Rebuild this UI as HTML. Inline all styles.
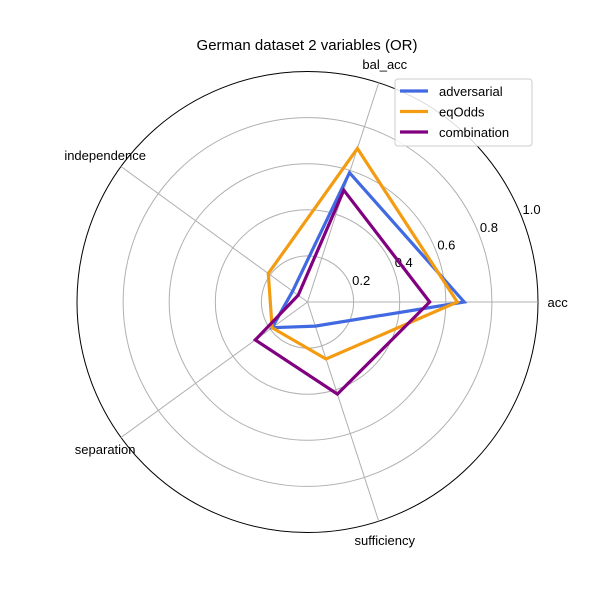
<!DOCTYPE html>
<html><head><meta charset="utf-8"><style>body{margin:0;background:#fff}svg text{font-family:"Liberation Sans","DejaVu Sans",sans-serif}</style></head>
<body>
<svg id="chart" width="600" height="600" viewBox="0 0 600 600" xmlns="http://www.w3.org/2000/svg">
<rect width="600" height="600" fill="#fff"/>
<text x="307" y="50" font-size="15" text-anchor="middle">German dataset 2 variables (OR)</text>
<g id="grid"></g>
<g id="series"></g>
<g id="legend">
<rect x="395" y="79" width="137" height="67" rx="3" fill="#fff" fill-opacity="0.85" stroke="#ccc"/>
</g>
</svg>
<script>
const categories = ["acc","bal_acc","independence","separation","sufficiency"];
const seriesNames = ["adversarial","eqOdds","combination"];
const adversarial = [0.68, 0.59, 0.08, 0.19, 0.11];
const eqOdds = [0.65, 0.70, 0.21, 0.19, 0.26];
const combination = [0.53, 0.51, 0.05, 0.28, 0.42];
const radialTicks = [0.2, 0.4, 0.6, 0.8, 1.0];
const tickLabels = ["0.2","0.4","0.6","0.8","1.0"];

const NS="http://www.w3.org/2000/svg";
const cx=307.5, cy=302, R=230.5;
const colors=["#4169e1","#f39c12","#800080"];
const allSeries=[adversarial,eqOdds,combination];
function ang(i){return i*2*Math.PI/categories.length;}
function px(v,i){return cx+v*R*Math.cos(ang(i));}
function py(v,i){return cy-v*R*Math.sin(ang(i));}
function mk(tag,attrs,parent){const e=document.createElementNS(NS,tag);for(const k in attrs)e.setAttribute(k,attrs[k]);parent.appendChild(e);return e;}
const grid=document.getElementById('grid');
radialTicks.forEach((t,k)=>{
  const c=mk('circle',{cx:cx,cy:cy,r:t*R,fill:'none',stroke:t===1?'#000':'#b0b0b0','stroke-width':1},grid);
  
  
  const a=22.5*Math.PI/180, rr=t*R+12;
  const tx=mk('text',{x:cx+rr*Math.cos(a),y:cy-rr*Math.sin(a)+5,'font-size':13,'text-anchor':'middle'},grid);
  tx.textContent=tickLabels[k];
  
  
});
categories.forEach((c,i)=>{
  const l=mk('line',{x1:cx,y1:cy,x2:px(1,i),y2:py(1,i),stroke:'#b0b0b0','stroke-width':1},grid);
  
  
  const rr=1.085;
  const t=mk('text',{x:cx+rr*R*Math.cos(ang(i)),y:cy-rr*R*Math.sin(ang(i))+5,'font-size':13,'text-anchor':'middle'},grid);
  t.textContent=c;
  
  
});
const sg=document.getElementById('series');
allSeries.forEach((vals,s)=>{
  const pts=vals.map((v,i)=>px(v,i).toFixed(1)+','+py(v,i).toFixed(1)).join(' ');
  const p=mk('polygon',{points:pts,fill:'none',stroke:colors[s],'stroke-width':3.2,'stroke-linejoin':'miter'},sg);
  
  
});
const lg=document.getElementById('legend');
seriesNames.forEach((n,s)=>{
  const y=91+s*20.5;
  const l=mk('line',{x1:400,y1:y,x2:428,y2:y,stroke:colors[s],'stroke-width':3.2},lg);
  
  
  const t=mk('text',{x:439,y:y+5,'font-size':13},lg);
  t.textContent=n;
  
  
});
</script>
</body></html>
